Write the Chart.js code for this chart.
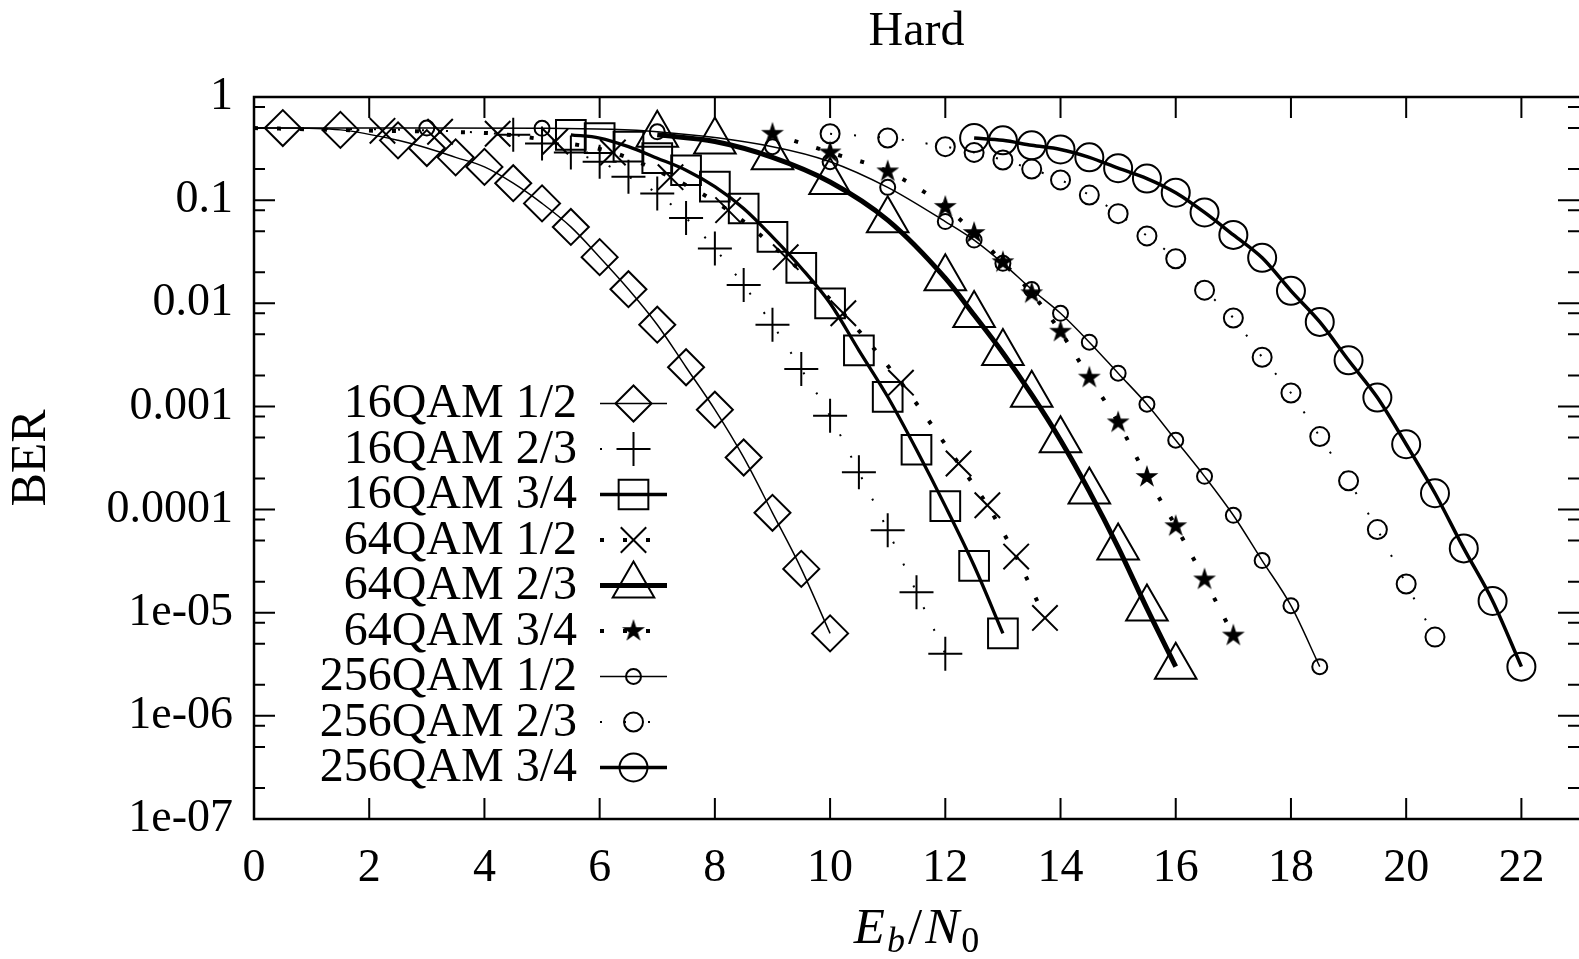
<!DOCTYPE html>
<html>
<head>
<meta charset="utf-8">
<title>Hard</title>
<script src="https://cdn.jsdelivr.net/npm/chart.js@4.4.1/dist/chart.umd.min.js"></script>
<style>
  html, body { margin: 0; padding: 0; background: #fff; overflow: hidden; }
  #wrap { width: 1579px; height: 959px; }
</style>
</head>
<body>
<div id="wrap"><canvas id="chart" width="1579" height="959"></canvas></div>
<script>
// curve names, in legend order
const labels = ['16QAM 1/2', '16QAM 2/3', '16QAM 3/4', '64QAM 1/2', '64QAM 2/3',
  '64QAM 3/4', '256QAM 1/2', '256QAM 2/3', '256QAM 3/4'];

// Eb/N0 (dB) and BER at each marker
const qam16r12X = [0.5, 1.5, 2.5, 3, 3.5, 4, 4.5, 5, 5.5, 6, 6.5, 7, 7.5, 8, 8.5, 9, 9.5, 10];
const qam16r12Y = [0.5, 0.48, 0.38, 0.32, 0.26, 0.21, 0.146, 0.093, 0.055, 0.028, 0.0137, 0.0062,
  0.0024, 9.3e-4, 3.2e-4, 9.3e-5, 2.66e-5, 6.3e-6];

const qam16r23X = [4.5, 5, 5.5, 6, 6.5, 7, 7.5, 8, 8.5, 9, 9.5, 10, 10.5, 11, 11.5, 12];
const qam16r23Y = [0.43, 0.355, 0.29, 0.236, 0.169, 0.116, 0.067, 0.034, 0.015, 0.0062, 0.0023,
  8.1e-4, 2.3e-4, 6.3e-5, 1.58e-5, 4.0e-6];

const qam16r34X = [5.5, 6, 6.5, 7, 7.5, 8, 8.5, 9, 9.5, 10, 10.5, 11, 11.5, 12, 12.5, 13];
const qam16r34Y = [0.43, 0.40, 0.33, 0.255, 0.195, 0.135, 0.083, 0.044, 0.022, 0.01, 0.0035,
  0.00124, 3.8e-4, 1.08e-4, 2.85e-5, 6.3e-6];

const qam64r12X = [2.23, 3.23, 4.23, 5.23, 6.23, 7.23, 8.23, 9.23, 10.23, 11.23, 12.23, 12.73, 13.23, 13.73];
const qam64r12Y = [0.47, 0.46, 0.44, 0.37, 0.29, 0.167, 0.08, 0.028, 0.008, 0.0017, 2.8e-4, 1.1e-4,
  3.5e-5, 8.9e-6];

const qam64r23X = [7, 8, 9, 10, 11, 12, 12.5, 13, 13.5, 14, 14.5, 15, 15.5, 16];
const qam64r23Y = [0.43, 0.37, 0.26, 0.15, 0.064, 0.0175, 0.0077, 0.0033, 0.0013, 4.7e-4, 1.5e-4,
  4.3e-5, 1.1e-5, 3.0e-6];

const qam64r34X = [9, 10, 11, 12, 12.5, 13, 13.5, 14, 14.5, 15, 15.5, 16, 16.5, 17];
const qam64r34Y = [0.44, 0.29, 0.19, 0.086, 0.048, 0.025, 0.0125, 0.0053, 0.0019, 7.0e-4, 2.07e-4,
  6.9e-5, 2.1e-5, 6.0e-6];

const qam256r12X = [3, 5, 7, 9, 10, 11, 12, 12.5, 13, 13.5, 14, 14.5, 15, 15.5, 16, 16.5, 17, 17.5, 18, 18.5];
const qam256r12Y = [0.5, 0.497, 0.46, 0.33, 0.236, 0.133, 0.062, 0.041, 0.0244, 0.0136, 0.008, 0.0042,
  0.0021, 0.00105, 4.7e-4, 2.1e-4, 8.8e-5, 3.2e-5, 1.17e-5, 3.0e-6];

const qam256r23X = [10, 11, 12, 12.5, 13, 13.5, 14, 14.5, 15, 15.5, 16, 16.5, 17, 17.5, 18, 18.5, 19, 19.5, 20, 20.5];
const qam256r23Y = [0.44, 0.40, 0.33, 0.29, 0.245, 0.2, 0.157, 0.112, 0.074, 0.045, 0.027, 0.0134,
  0.0072, 0.003, 0.00135, 5.1e-4, 1.9e-4, 6.4e-5, 1.9e-5, 5.8e-6];

const qam256r34X = [12.5, 13, 13.5, 14, 14.5, 15, 15.5, 16, 16.5, 17, 17.5, 18, 18.5, 19, 19.5, 20, 20.5, 21, 21.5, 22];
const qam256r34Y = [0.40, 0.38, 0.34, 0.31, 0.26, 0.204, 0.162, 0.118, 0.076, 0.046, 0.0276, 0.0132,
  0.0066, 0.0028, 0.00122, 4.3e-4, 1.44e-4, 4.2e-5, 1.3e-5, 3.0e-6];

// some curves run in from the left border without a marker there
const lineStartX = 0;
const lineStartY = [0.5, 0.5, null, 0.5, null, null, 0.5, null, null];

const xTicks = [0, 2, 4, 6, 8, 10, 12, 14, 16, 18, 20, 22];
const xTickLabels = ['0', '2', '4', '6', '8', '10', '12', '14', '16', '18', '20', '22'];
const yTicks = [1e-7, 1e-6, 1e-5, 1e-4, 1e-3, 1e-2, 1e-1, 1];
const yTickLabels = ['1e-07', '1e-06', '1e-05', '0.0001', '0.001', '0.01', '0.1', '1'];
const yMinor = [2, 5, 8];

const seriesX = [qam16r12X, qam16r23X, qam16r34X, qam64r12X, qam64r23X, qam64r34X, qam256r12X, qam256r23X, qam256r34X];
const seriesY = [qam16r12Y, qam16r23Y, qam16r34Y, qam64r12Y, qam64r23Y, qam64r34Y, qam256r12Y, qam256r23Y, qam256r34Y];

const FONT = '"Liberation Serif", "Times New Roman", serif';

function starImage(r) {
  const c = document.createElement('canvas');
  const s = Math.ceil(2 * r + 2);
  c.width = c.height = s;
  const g = c.getContext('2d');
  g.translate(s / 2, s / 2);
  g.beginPath();
  for (let i = 0; i < 10; i++) {
    const rr = i % 2 ? r * 0.38 : r;
    const a = -Math.PI / 2 + i * Math.PI / 5;
    g.lineTo(rr * Math.cos(a), rr * Math.sin(a));
  }
  g.closePath();
  g.fillStyle = '#000';
  g.fill();
  return c;
}

// gnuplot-ish styles
const markers = ['rectRot', 'cross', 'rect', 'crossRot', 'triangle', starImage(12), 'circle', 'circle', 'circle'];
const markerR = [18, 17, 21, 18, 24, 12, 7.5, 9.5, 14];
const lineW = [1.5, 2, 3.3, 4, 5, 4, 1.5, 2, 3.5];
const dashes = [[], [2, 22], [], [4, 19], [], [4, 19], [], [2, 22], []];

const datasets = labels.map((name, i) => {
  const pts = seriesX[i].map((x, j) => ({ x: x, y: seriesY[i][j] }));
  const lead = lineStartY[i] !== null;
  if (lead) pts.unshift({ x: lineStartX, y: lineStartY[i] });
  return {
    label: name,
    data: pts,
    borderColor: '#000',
    borderWidth: lineW[i],
    borderDash: dashes[i],
    pointStyle: markers[i],
    pointRadius: (c) => (lead && c.dataIndex === 0) ? 0 : markerR[i],
    pointBorderWidth: 2,
    pointBorderColor: '#000',
    pointBackgroundColor: 'rgba(0,0,0,0)',
    cubicInterpolationMode: 'monotone',
    fill: false,
  };
});

const gnuplotLook = {
  id: 'gnuplotLook',
  afterDatasetsDraw(chart) {
    const { ctx, chartArea: a, scales: { x, y } } = chart;
    ctx.save();
    ctx.strokeStyle = '#000';
    ctx.fillStyle = '#000';
    ctx.setLineDash([]);

    // inward ticks on all four sides
    ctx.lineWidth = 2;
    ctx.beginPath();
    xTicks.forEach((v) => {
      const px = x.getPixelForValue(v);
      ctx.moveTo(px, a.bottom); ctx.lineTo(px, a.bottom - 21);
      ctx.moveTo(px, a.top); ctx.lineTo(px, a.top + 21);
    });
    yTicks.forEach((v) => {
      const py = y.getPixelForValue(v);
      ctx.moveTo(a.left, py); ctx.lineTo(a.left + 21, py);
      ctx.moveTo(a.right, py); ctx.lineTo(a.right - 21, py);
    });
    yTicks.slice(0, -1).forEach((v) => {
      yMinor.forEach((m) => {
        const py = y.getPixelForValue(v * m);
        ctx.moveTo(a.left, py); ctx.lineTo(a.left + 11, py);
        ctx.moveTo(a.right, py); ctx.lineTo(a.right - 11, py);
      });
    });
    ctx.stroke();

    // frame (right side falls at the page edge)
    ctx.lineWidth = 2.5;
    ctx.beginPath();
    ctx.moveTo(a.right + 2, a.top);
    ctx.lineTo(a.left, a.top);
    ctx.lineTo(a.left, a.bottom);
    ctx.lineTo(a.right + 2, a.bottom);
    ctx.stroke();

    // title over the plot centre
    ctx.font = '48px ' + FONT;
    ctx.textAlign = 'center';
    ctx.textBaseline = 'alphabetic';
    ctx.fillText('Hard', (a.left + a.right) / 2, 45);

    // key: label, then line sample with marker
    ctx.font = '48px ' + FONT;
    ctx.textAlign = 'right';
    ctx.textBaseline = 'middle';
    chart.data.datasets.forEach((ds, i) => {
      const ry = 403.5 + i * 45.5;
      ctx.fillText(ds.label, 577, ry + 1);
      ctx.lineWidth = ds.borderWidth;
      ctx.setLineDash(ds.borderDash);
      ctx.beginPath();
      ctx.moveTo(600, ry);
      ctx.lineTo(667, ry);
      ctx.stroke();
      ctx.setLineDash([]);
      ctx.lineWidth = 2;
      ctx.fillStyle = 'rgba(0,0,0,0)';
      Chart.helpers.drawPoint(ctx, { pointStyle: ds.pointStyle, radius: markerR[i], borderWidth: 2, rotation: 0 }, 633.5, ry);
      ctx.fillStyle = '#000';
    });

    // x axis title E_b/N_0
    const parts = [
      ['E', 'italic 51px ' + FONT, 0, 2],
      ['b', 'italic 36px ' + FONT, 9, 3],
      ['/', '51px ' + FONT, 0, 3],
      ['N', 'italic 51px ' + FONT, 0, 2],
      ['0', '36px ' + FONT, 9, 0],
    ];
    let total = 0;
    parts.forEach((p) => { ctx.font = p[1]; total += ctx.measureText(p[0]).width + p[3]; });
    let cx = (a.left + a.right) / 2 - total / 2;
    ctx.textAlign = 'left';
    ctx.textBaseline = 'alphabetic';
    parts.forEach((p) => {
      ctx.font = p[1];
      ctx.fillText(p[0], cx, 943 + p[2]);
      cx += ctx.measureText(p[0]).width + p[3];
    });
    ctx.restore();
  },
};

Chart.defaults.font.family = FONT;
Chart.defaults.color = '#000';

new Chart(document.getElementById('chart'), {
  type: 'line',
  data: { datasets: datasets },
  options: {
    responsive: false,
    animation: false,
    events: [],
    layout: { autoPadding: false, padding: { left: 0, right: 0, top: 97, bottom: 0 } },
    plugins: {
      legend: { display: false },
      tooltip: { enabled: false },
      title: { display: false },
    },
    scales: {
      x: {
        type: 'linear',
        min: 0,
        max: 23,
        afterBuildTicks: (s) => { s.ticks = xTicks.map((v) => ({ value: v })); },
        afterFit: (s) => { s.height = 140; },
        grid: { display: false, drawTicks: false },
        border: { display: false },
        ticks: {
          autoSkip: false,
          maxRotation: 0,
          padding: 22,
          font: { size: 46 },
          callback: (v, i) => xTickLabels[i],
        },
      },
      y: {
        type: 'logarithmic',
        min: 1e-7,
        max: 1,
        afterBuildTicks: (s) => { s.ticks = yTicks.map((v) => ({ value: v })); },
        afterFit: (s) => { s.width = 254; },
        grid: { display: false, drawTicks: false },
        border: { display: false },
        ticks: {
          autoSkip: false,
          padding: 21,
          font: { size: 46 },
          callback: (v, i) => yTickLabels[i],
        },
        title: {
          display: true,
          text: 'BER',
          color: '#000',
          font: { family: FONT, size: 50 },
          padding: { top: 2, bottom: 0 },
        },
      },
    },
  },
  plugins: [gnuplotLook],
});
</script>
</body>
</html>
